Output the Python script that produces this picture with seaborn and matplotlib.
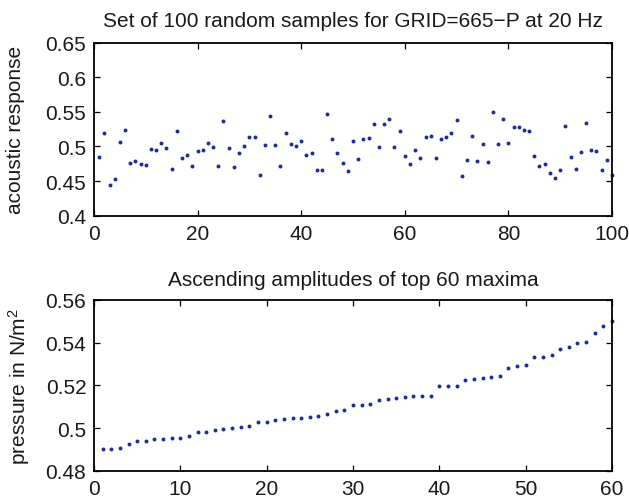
import numpy as np
import pandas as pd
import matplotlib
matplotlib.use("Agg")
import matplotlib.pyplot as plt
import seaborn as sns

# ---- data ----
sample_idx = list(range(1, 101))
acoustic = [
    0.4853, 0.5190, 0.4436, 0.4533, 0.5066, 0.5245, 0.4760, 0.4790, 0.4746, 0.4727,
    0.4964, 0.4950, 0.5051, 0.4984, 0.4678, 0.5230, 0.4838, 0.4872, 0.4712, 0.4940,
    0.4955, 0.5051, 0.4993, 0.4712, 0.5371, 0.4984, 0.4707, 0.4901, 0.5003, 0.5143,
    0.5134, 0.4591, 0.5022, 0.5444, 0.5022, 0.4712, 0.5190, 0.5042, 0.5003, 0.5080,
    0.4872, 0.4901, 0.4664, 0.4664, 0.5478, 0.5105, 0.4906, 0.4761, 0.4640, 0.5076,
    0.4824, 0.5110, 0.5124, 0.5328, 0.4998, 0.5328, 0.5400, 0.4993, 0.5230, 0.4862,
    0.4741, 0.4955, 0.4828, 0.5143, 0.5148, 0.4828, 0.5110, 0.5143, 0.5190, 0.5381,
    0.4567, 0.4799, 0.5148, 0.4785, 0.5037, 0.4775, 0.5502, 0.5037, 0.5395, 0.5051,
    0.5289, 0.5279, 0.5235, 0.5226, 0.4858, 0.4722, 0.4746, 0.4611, 0.4543, 0.4664,
    0.5294, 0.4853, 0.4673, 0.4920, 0.5337, 0.4950, 0.4940, 0.4654, 0.4809, 0.4581,
]

maxima_idx = list(range(1, 61))
maxima = [
    0.4903, 0.4904, 0.4909, 0.4924, 0.4940, 0.4940, 0.4948, 0.4949, 0.4955, 0.4955,
    0.4963, 0.4982, 0.4983, 0.4994, 0.4997, 0.5003, 0.5004, 0.5010, 0.5027, 0.5030,
    0.5039, 0.5042, 0.5047, 0.5050, 0.5053, 0.5055, 0.5067, 0.5080, 0.5084, 0.5111,
    0.5111, 0.5114, 0.5131, 0.5139, 0.5143, 0.5146, 0.5149, 0.5151, 0.5151, 0.5196,
    0.5196, 0.5196, 0.5227, 0.5232, 0.5233, 0.5238, 0.5244, 0.5280, 0.5292, 0.5297,
    0.5333, 0.5333, 0.5342, 0.5372, 0.5381, 0.5401, 0.5404, 0.5446, 0.5480, 0.5504,
]

top_xticks = [0, 20, 40, 60, 80, 100]
top_yticks = [0.4, 0.45, 0.5, 0.55, 0.6, 0.65]
top_yticklabels = ["0.4", "0.45", "0.5", "0.55", "0.6", "0.65"]
bot_xticks = [0, 10, 20, 30, 40, 50, 60]
bot_yticks = [0.48, 0.5, 0.52, 0.54, 0.56]
bot_yticklabels = ["0.48", "0.5", "0.52", "0.54", "0.56"]

top_title = "Set of 100 random samples for GRID=665\u2212P at 20 Hz"
bot_title = "Ascending amplitudes of top 60 maxima"
top_ylabel = "acoustic response"
bot_ylabel = "pressure in N/m$^2$"

# ---- styling ----
sns.set_theme(style="white")
plt.rcParams["font.family"] = ["Liberation Sans", "DejaVu Sans"]
plt.rcParams["mathtext.fontset"] = "custom"
plt.rcParams["mathtext.rm"] = "Liberation Sans"
plt.rcParams["mathtext.it"] = "Liberation Sans"
FS = 15
plt.rcParams["font.size"] = FS

dot_color = "#1f2c9c"
text_color = "#1a1a1a"

fig = plt.figure(figsize=(6.29, 5.02), dpi=100)
ax1 = fig.add_axes([0.1494, 0.5687, 0.8236, 0.3437])
ax2 = fig.add_axes([0.1494, 0.0598, 0.8236, 0.3406])

df1 = pd.DataFrame({"x": sample_idx, "y": acoustic})
df2 = pd.DataFrame({"x": maxima_idx, "y": maxima})

sns.scatterplot(data=df1, x="x", y="y", ax=ax1, color=dot_color, s=8,
                linewidth=0, clip_on=False)
sns.scatterplot(data=df2, x="x", y="y", ax=ax2, color=dot_color, s=8,
                linewidth=0, clip_on=False)

def style(ax, xlim, ylim, xticks, yticks, yticklabels, title, ylabel, lx, tpad):
    ax.set_xlim(*xlim)
    ax.set_ylim(*ylim)
    ax.set_xticks(xticks)
    ax.set_xticklabels([str(t) for t in xticks])
    ax.set_yticks(yticks)
    ax.set_yticklabels(yticklabels)
    ax.set_title(title, fontsize=FS, pad=tpad, color=text_color)
    ax.set_xlabel("")
    ax.set_ylabel(ylabel, fontsize=FS, color=text_color)
    ax.yaxis.set_label_coords(lx, 0.5)
    for sp in ax.spines.values():
        sp.set_visible(True)
        sp.set_color("black")
        sp.set_linewidth(1.3)
    ax.tick_params(direction="in", length=4.5, width=0.9, top=True, right=True,
                   bottom=True, left=True, labelsize=FS, colors="black",
                   labelcolor=text_color)
    ax.tick_params(axis="y", pad=5.5)
    ax.tick_params(axis="x", pad=6)
    ax.set_facecolor("white")

style(ax1, (0, 100), (0.4, 0.65), top_xticks, top_yticks, top_yticklabels,
      top_title, top_ylabel, -0.133, 12.5)
style(ax2, (0, 60), (0.48, 0.56), bot_xticks, bot_yticks, bot_yticklabels,
      bot_title, bot_ylabel, -0.12, 11)

fig.savefig("out.png", dpi=100, facecolor="white")
